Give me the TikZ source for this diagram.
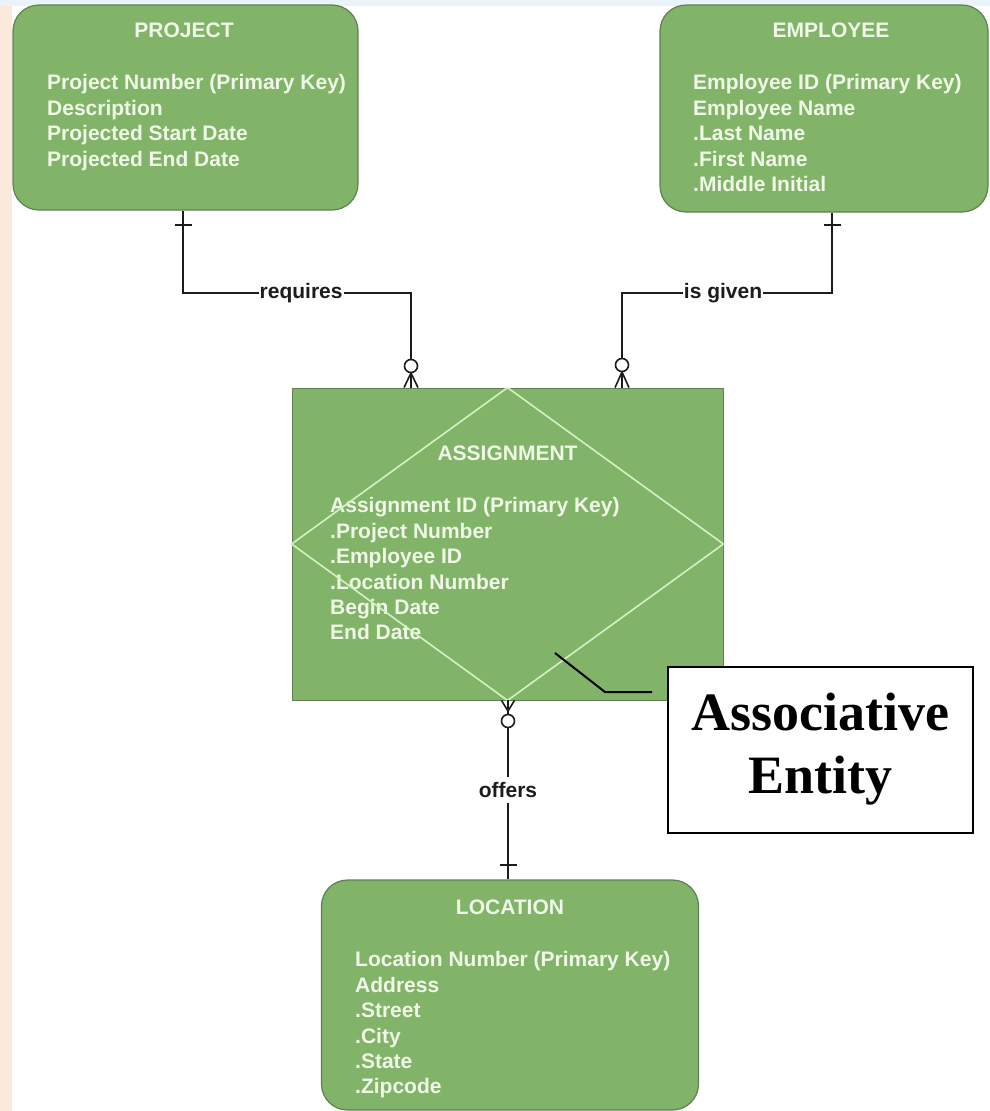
\documentclass[tikz,border=0pt]{standalone}
\usepackage{fontspec}
\setmainfont{Liberation Sans}
\newfontfamily\calloutfont{Liberation Serif}
\definecolor{boxgreen}{RGB}{129,180,104}
\definecolor{edgegreen}{RGB}{96,128,84}
\definecolor{txtwhite}{RGB}{240,248,232}
\definecolor{diamline}{RGB}{214,240,198}
\definecolor{linedark}{RGB}{28,28,28}
\definecolor{bandblue}{RGB}{234,243,250}
\definecolor{sidebeige}{RGB}{251,234,220}
\begin{document}
\begin{tikzpicture}[x=1pt,y=-1pt,
  entity/.style={draw=edgegreen, fill=boxgreen, line width=1.2pt, rounded corners=26pt, inner sep=0pt},
  assocbox/.style={draw=edgegreen, fill=boxgreen, line width=0.8pt, inner sep=0pt},
  etitle/.style={text=txtwhite, font=\bfseries\fontsize{21}{25}\selectfont, inner sep=0pt},
  attrs/.style={text=txtwhite, font=\bfseries\fontsize{21}{25.4}\selectfont, align=left, anchor=north west, inner sep=0pt},
  conn/.style={draw=linedark, line width=1.6pt},
  rel/.style={text=linedark, font=\bfseries\fontsize{21}{24}\selectfont, fill=white, inner xsep=1pt, inner ysep=1pt},
  diam/.style={draw=diamline, line width=1.6pt},
  callout/.style={draw=black, line width=2pt, fill=white, inner sep=0pt},
  calltext/.style={font=\calloutfont\bfseries\fontsize{54}{63}\selectfont, anchor=base, inner sep=0pt},
  leader/.style={draw=black, line width=2pt},
]
% background
\fill[white] (0,0) rectangle (990,1111);
\fill[bandblue] (0,0) rectangle (990,6);
\fill[sidebeige] (0,6) rectangle (12,1111);
\useasboundingbox (0,0) rectangle (990,1111);

% PROJECT
\node[entity, minimum width=345pt, minimum height=205pt] (proj) at (185.5,107.5) {};
\node[etitle] (projT) at (184,30) {PROJECT};
\node[attrs] (projA) at (47,74.5) {Project Number (Primary Key)\\Description\\Projected Start Date\\Projected End Date};

% EMPLOYEE
\node[entity, minimum width=328pt, minimum height=207pt] (emp) at (824,108.5) {};
\node[etitle] (empT) at (831,30) {EMPLOYEE};
\node[attrs] (empA) at (693,74.5) {Employee ID (Primary Key)\\Employee Name\\.Last Name\\.First Name\\.Middle Initial};

% ASSIGNMENT
\node[assocbox, minimum width=431pt, minimum height=312pt] (asg) at (507.5,544) {};
\node[etitle] (asgT) at (507.5,453) {ASSIGNMENT};
\node[attrs] (asgA) at (330,497.5) {Assignment ID (Primary Key)\\.Project Number\\.Employee ID\\.Location Number\\Begin Date\\End Date};
\draw[diam] (asg.north) -- (asg.east) -- (asg.south) -- (asg.west) -- cycle;

% LOCATION
\node[entity, minimum width=377pt, minimum height=230pt] (loc) at (510,995) {};
\node[etitle] (locT) at (510,907) {LOCATION};
\node[attrs] (locA) at (355,951.5) {Location Number (Primary Key)\\Address\\.Street\\.City\\.State\\.Zipcode};

% requires
\coordinate (r1) at (183,293);
\coordinate (r2) at (411,293);
\coordinate (rt) at (183,225);
\coordinate (rf) at (411,373);
\draw[conn] (proj.south -| r1) -- (r1) -- node[rel, pos=0.518] (reqL) {requires} (r2) -- (asg.north -| r2);
\draw[conn] ([xshift=-8.5pt]rt) -- ([xshift=8.5pt]rt);
\draw[conn, fill=white] (411,366) circle (6.5pt);
\draw[conn] (rf) -- ([xshift=-7pt]asg.north -| r2);
\draw[conn] (rf) -- ([xshift=7pt]asg.north -| r2);

% is given
\coordinate (g1) at (832,293);
\coordinate (g2) at (622,293);
\coordinate (gt) at (832,225);
\coordinate (gf) at (622,372);
\draw[conn] (emp.south -| g1) -- (g1) -- node[rel, pos=0.519] (givL) {is given} (g2) -- (asg.north -| g2);
\draw[conn] ([xshift=-8.5pt]gt) -- ([xshift=8.5pt]gt);
\draw[conn, fill=white] (622,365) circle (6.5pt);
\draw[conn] (gf) -- ([xshift=-7pt]asg.north -| g2);
\draw[conn] (gf) -- ([xshift=7pt]asg.north -| g2);

% offers
\coordinate (ox) at (508,700);
\coordinate (ot) at (508,865);
\coordinate (of) at (508,711);
\draw[conn] (asg.south -| ox) -- node[rel, pos=0.5, inner ysep=5pt] (offL) {offers} (loc.north -| ox);
\draw[conn] ([xshift=-8.5pt]ot) -- ([xshift=8.5pt]ot);
\draw[conn, fill=white] (508,721) circle (6.5pt);
\draw[conn] (of) -- ([xshift=-6.5pt]asg.south -| ox);
\draw[conn] (of) -- ([xshift=6.5pt]asg.south -| ox);
\draw[conn] (of) -- (asg.south -| ox);

% Callout
\node[callout, minimum width=305pt, minimum height=166pt] (ae) at (820.5,750) {};
\node[calltext] (ae1) at (820,730) {Associative};
\node[calltext] (ae2) at (820,793) {Entity};
\coordinate (ld1) at (555,653);
\coordinate (ld2) at (605,692);
\coordinate (ld3) at (652,692);
\draw[leader] (ld1) -- (ld2) -- (ld3);
\end{tikzpicture}
\end{document}
